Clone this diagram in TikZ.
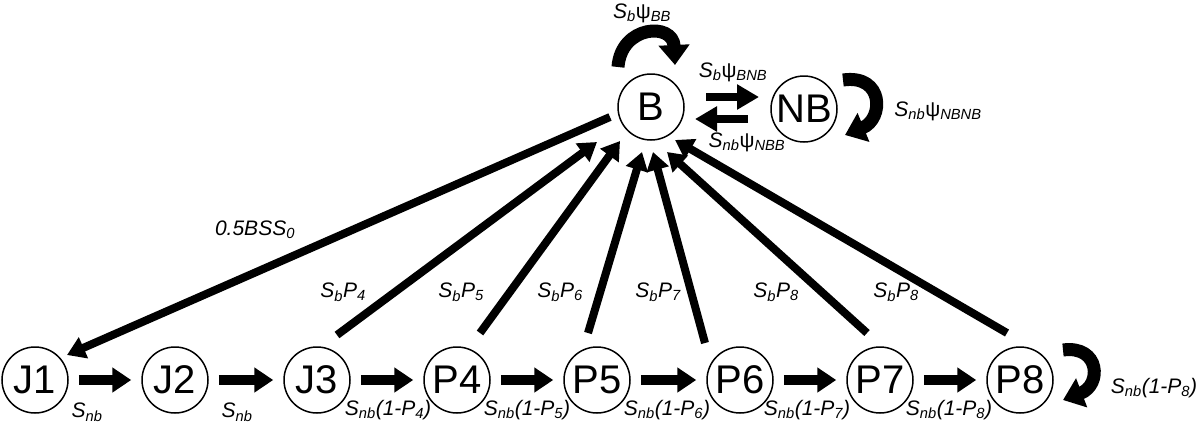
\documentclass[tikz,border=0pt]{standalone}
\usepackage{fontspec}
\setmainfont{Liberation Sans}
\usetikzlibrary{arrows.meta,calc}
\tikzset{
  st/.style={circle, draw, line width=1.5pt, minimum size=66pt, inner sep=0pt, font=\fontsize{40}{44}\selectfont},
  lab/.style={font=\fontsize{21}{25}\selectfont\itshape, inner sep=0pt},
  harr/.style={line width=10pt, -{Triangle[width=24pt,length=19pt]}, shorten <=10pt, shorten >=10pt},
  darr/.style={line width=8pt, -{Triangle[width=22pt,length=18pt]}},
  barr/.style={line width=8pt, -{Triangle[width=24pt,length=22pt]}},
  larr/.style={line width=13pt, -{Triangle[width=30pt,length=20pt]}},
}
\begin{document}
\begin{tikzpicture}[x=1pt,y=-1pt]
\useasboundingbox (0,0) rectangle (1200,424);
% states
\node[st] (B) at (651,107) {B};
\node[st] (NB) at (804,109) {NB};
\node[st] (J1) at (35,380) {J1};
\node[st] (J2) at (175,380) {J2};
\node[st] (J3) at (317,380) {J3};
\node[st] (P4) at (457,380) {P4};
\node[st] (P5) at (597,380) {P5};
\node[st] (P6) at (740,380) {P6};
\node[st] (P7) at (880,380) {P7};
\node[st] (P8) at (1020,380) {P8};
% horizontal transitions
\draw[harr] (J1) -- (J2);
\draw[harr] (J2) -- (J3);
\draw[harr] (J3) -- (P4);
\draw[harr] (P4) -- (P5);
\draw[harr] (P5) -- (P6);
\draw[harr] (P6) -- (P7);
\draw[harr] (P7) -- (P8);
% to breeders
\draw[darr] ($(J3)+(20,-45)$) -- ($(B)+(-54,35)$);
\draw[darr] ($(P4)+(23,-47)$) -- ($(B)+(-31,34)$);
\draw[darr] ($(P5)+(-9,-47)$) -- ($(B)+(-9,45)$);
\draw[darr] ($(P6)+(-35,-37)$) -- ($(B)+(2,45)$);
\draw[darr] ($(P7)+(-13,-47)$) -- ($(B)+(16,45)$);
\draw[darr] ($(P8)+(-13,-47)$) -- ($(B)+(24,33)$);
% recruitment
\draw[darr] ($(B)+(-41,10)$) -- ($(J1)+(32,-25)$);
% B <-> NB
\draw[barr] ($(B)+(55,-10)$) -- ($(NB)+(-45,-12)$);
\draw[barr] ($(NB)+(-56,10)$) -- ($(B)+(44,12)$);
% self loops
\draw[larr] ($(B)+(-33,-40)$) .. controls ($(B)+(-30,-82)$) and ($(B)+(22,-85)$) .. ($(B)+(24,-42)$);
\draw[larr] ($(NB)+(39,-29)$) .. controls ($(NB)+(80,-35)$) and ($(NB)+(80,10)$) .. ($(NB)+(41,26)$);
\draw[larr] ($(P8)+(43,-30)$) .. controls ($(P8)+(80,-35)$) and ($(P8)+(82,5)$) .. ($(P8)+(43,20)$);
% labels
\node[lab] (lBB) at (642,13) {S\textsubscript{b}\textup{ψ}\textsubscript{BB}};
\node[lab] (lBNB) at (733,72) {S\textsubscript{b}\textup{ψ}\textsubscript{BNB}};
\node[lab] (lNBB) at (747,142) {S\textsubscript{nb}\textup{ψ}\textsubscript{NBB}};
\node[lab] (lNBNB) at (938,111) {S\textsubscript{nb}\textup{ψ}\textsubscript{NBNB}};
\node[lab] (lBSS) at (255,230) {0.5BSS\textsubscript{0}};
\node[lab] (lP4) at (343,292) {S\textsubscript{b}P\textsubscript{4}};
\node[lab] (lP5) at (461,292) {S\textsubscript{b}P\textsubscript{5}};
\node[lab] (lP6) at (560,292) {S\textsubscript{b}P\textsubscript{6}};
\node[lab] (lP7) at (658,292) {S\textsubscript{b}P\textsubscript{7}};
\node[lab] (lP8a) at (776,292) {S\textsubscript{b}P\textsubscript{8}};
\node[lab] (lP8b) at (896,292) {S\textsubscript{b}P\textsubscript{8}};
\node[lab] (lJ12) at (87,412) {S\textsubscript{nb}};
\node[lab] (lJ23) at (237,412) {S\textsubscript{nb}};
\node[lab] (lJ3P4) at (388,410) {S\textsubscript{nb}(1-P\textsubscript{4})};
\node[lab] (lP45) at (527,410) {S\textsubscript{nb}(1-P\textsubscript{5})};
\node[lab] (lP56) at (667,410) {S\textsubscript{nb}(1-P\textsubscript{6})};
\node[lab] (lP67) at (807,410) {S\textsubscript{nb}(1-P\textsubscript{7})};
\node[lab] (lP78) at (949,410) {S\textsubscript{nb}(1-P\textsubscript{8})};
\node[lab] (lP88) at (1154,388) {S\textsubscript{nb}(1-P\textsubscript{8})};
\end{tikzpicture}
\end{document}
